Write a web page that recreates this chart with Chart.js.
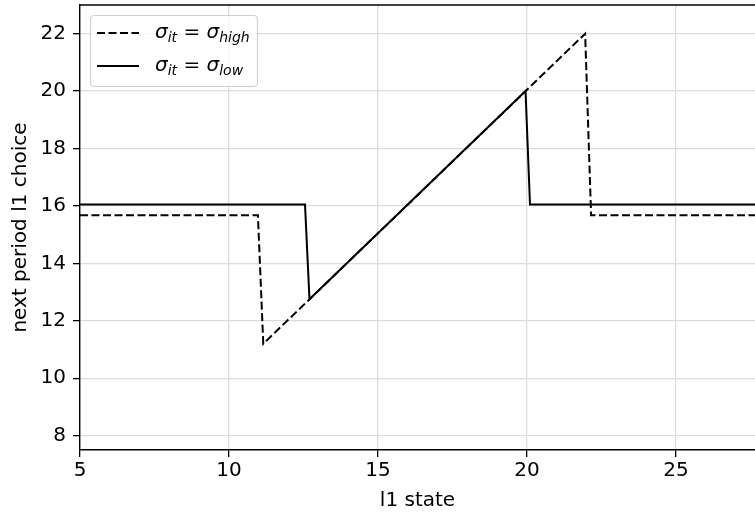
<!DOCTYPE html>
<html>
<head>
<meta charset="utf-8">
<script src="https://cdn.jsdelivr.net/npm/chart.js@4"></script>
<style>
  body { margin: 0; background: #fff; }
  #wrap { width: 755px; height: 513px; }
</style>
</head>
<body>
<div id="wrap"><canvas id="choiceChart" width="755" height="513"></canvas></div>
<script>
// l1 state grid (x) and next period l1 choice (y)
const highState  = [5, 10.97, 11.15, 21.95, 22.15, 28];
const highChoice = [15.68, 15.68, 11.2, 22.0, 15.68, 15.68];
const lowState   = [5, 12.55, 12.7, 19.95, 20.1, 28];
const lowChoice  = [16.05, 16.05, 12.75, 20.0, 16.05, 16.05];

const xTicks = [5, 10, 15, 20, 25];
const yTicks = [8, 10, 12, 14, 16, 18, 20, 22];
// legend: sigma_{it} = sigma_{sub}
const legendSubs = ['high', 'low'];

const FONT = '"DejaVu Sans", sans-serif';

function toPoints(xs, ys) {
    return xs.map((x, i) => ({ x: x, y: ys[i] }));
}

// matplotlib-like top spine + legend box inside the axes
const framePlugin = {
    id: 'frame',
    afterDraw(chart) {
        const ctx = chart.ctx;
        const a = chart.chartArea;
        ctx.save();
        ctx.strokeStyle = '#000';
        ctx.lineWidth = 1.4;
        ctx.beginPath();
        ctx.moveTo(a.left, a.top);
        ctx.lineTo(a.right, a.top);
        ctx.stroke();

        // legend
        const bx = 90.5, by = 15.5, bw = 167, bh = 71, r = 4;
        ctx.beginPath();
        ctx.moveTo(bx + r, by);
        ctx.arcTo(bx + bw, by, bx + bw, by + bh, r);
        ctx.arcTo(bx + bw, by + bh, bx, by + bh, r);
        ctx.arcTo(bx, by + bh, bx, by, r);
        ctx.arcTo(bx, by, bx + bw, by, r);
        ctx.closePath();
        ctx.fillStyle = 'rgba(255,255,255,0.8)';
        ctx.fill();
        ctx.strokeStyle = '#d0d0d0';
        ctx.lineWidth = 1.2;
        ctx.stroke();

        const rows = [33, 66];
        chart.data.datasets.forEach((ds, i) => {
            const y = rows[i];
            ctx.strokeStyle = ds.borderColor;
            ctx.lineWidth = ds.borderWidth;
            ctx.setLineDash(ds.borderDash || []);
            ctx.beginPath();
            ctx.moveTo(97, y);
            ctx.lineTo(139, y);
            ctx.stroke();
            ctx.setLineDash([]);

            ctx.fillStyle = '#000';
            ctx.textBaseline = 'alphabetic';
            ctx.textAlign = 'left';
            let x = 155;
            const base = y + 5;
            const big = 'italic 20px ' + FONT;
            const small = 'italic 14px ' + FONT;
            ctx.font = big;
            ctx.fillText('σ', x, base); x += ctx.measureText('σ').width;
            ctx.font = small;
            ctx.fillText('it', x, base + 4); x += ctx.measureText('it').width;
            ctx.font = '20px ' + FONT;
            ctx.fillText(' = ', x, base); x += ctx.measureText(' = ').width;
            ctx.font = big;
            ctx.fillText('σ', x, base); x += ctx.measureText('σ').width;
            ctx.font = small;
            ctx.fillText(legendSubs[i], x, base + 4);
        });
        ctx.restore();
    }
};

new Chart(document.getElementById('choiceChart').getContext('2d'), {
    type: 'line',
    data: {
        datasets: [
            {
                label: 'σit = σhigh',
                data: toPoints(highState, highChoice),
                borderColor: '#000',
                borderWidth: 2,
                borderDash: [8, 3.5],
                pointRadius: 0,
                fill: false,
                tension: 0
            },
            {
                label: 'σit = σlow',
                data: toPoints(lowState, lowChoice),
                borderColor: '#000',
                borderWidth: 2,
                pointRadius: 0,
                fill: false,
                tension: 0
            }
        ]
    },
    options: {
        responsive: false,
        animation: false,
        layout: { padding: { top: 5, right: 0, left: 0, bottom: 0 } },
        plugins: {
            legend: { display: false },
            tooltip: { enabled: false }
        },
        scales: {
            x: {
                type: 'linear',
                min: 5,
                max: 27.65,
                afterBuildTicks: s => { s.ticks = xTicks.map(v => ({ value: v })); },
                afterFit: s => { s.height = 63; s.paddingLeft = 0; s.paddingRight = 0; },
                grid: { color: '#dcdcdc', lineWidth: 1.3, tickColor: '#000', tickLength: 7, tickWidth: 1.3 },
                border: { display: true, color: '#000', width: 1.4 },
                ticks: { color: '#000', font: { family: FONT, size: 20 }, padding: 2, maxRotation: 0 },
                title: { display: true, text: 'l1 state', color: '#000', font: { family: FONT, size: 20 }, padding: { top: 0, bottom: 0 } }
            },
            y: {
                min: 7.5,
                max: 23,
                afterBuildTicks: s => { s.ticks = yTicks.map(v => ({ value: v })); },
                afterFit: s => { s.width = 80; s.paddingTop = 0; s.paddingBottom = 0; },
                grid: { color: '#dcdcdc', lineWidth: 1.3, tickColor: '#000', tickLength: 7, tickWidth: 1.3 },
                border: { display: true, color: '#000', width: 1.4 },
                ticks: { color: '#000', font: { family: FONT, size: 20 }, padding: 7 },
                title: { display: true, text: 'next period l1 choice', color: '#000', font: { family: FONT, size: 20 }, padding: { top: 9, bottom: 0 } }
            }
        }
    },
    plugins: [framePlugin]
});
</script>
</body>
</html>
